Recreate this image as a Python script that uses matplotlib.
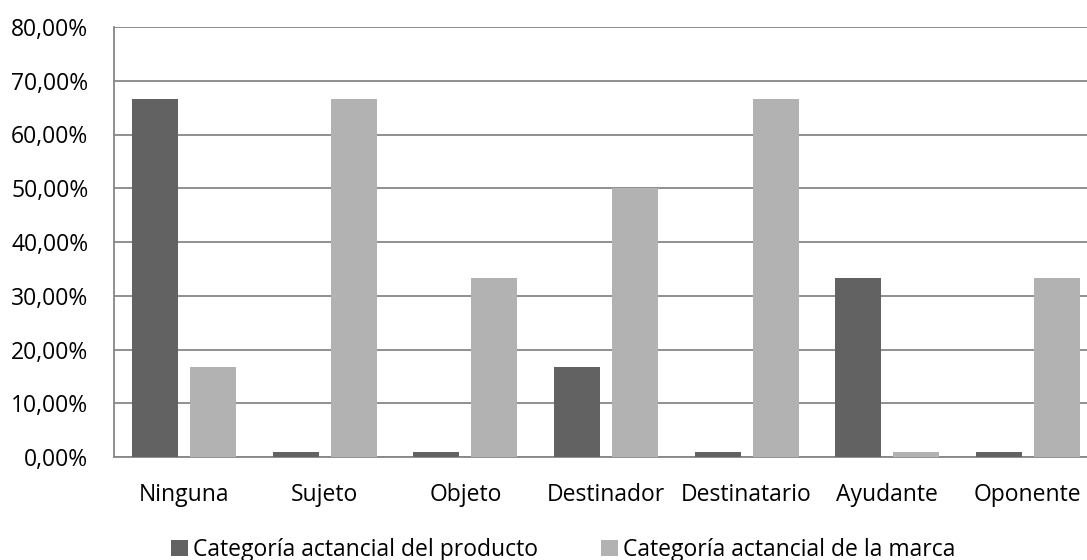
import matplotlib
matplotlib.use("Agg")
import matplotlib.pyplot as plt
import numpy as np
from matplotlib.ticker import FuncFormatter

categories = ["Ninguna", "Sujeto", "Objeto", "Destinador", "Destinatario", "Ayudante", "Oponente"]
producto = [66.67, 1.0, 1.0, 16.67, 1.0, 33.33, 1.0]
marca = [16.67, 66.67, 33.33, 50.0, 66.67, 1.0, 33.33]
series_names = ["Categoría actancial del producto", "Categoría actancial de la marca"]

plt.rcParams['font.family'] = ['Open Sans', 'DejaVu Sans']
FS = 16.5

W, H = 1087, 560
fig = plt.figure(figsize=(W / 100, H / 100), dpi=100)
# plot area runs a little past the right edge of the canvas
ax = fig.add_axes([114 / W, 1 - 457 / H, 984 / W, 430 / H])

x = np.arange(len(categories))
w = 0.327
off = 0.206
ax.bar(x - off, producto, w, color="#626262", label=series_names[0], zorder=3)
ax.bar(x + off, marca, w, color="#b2b2b2", label=series_names[1], zorder=3)

ax.set_xlim(-0.5, len(categories) - 0.5)
ax.set_ylim(0, 80)
ax.set_yticks(np.arange(0, 81, 10))
ax.yaxis.set_major_formatter(FuncFormatter(lambda v, p: f"{v:.2f}%".replace(".", ",")))
ax.set_xticks(x)
ax.set_xticklabels(categories)
ax.tick_params(axis="both", length=0, labelsize=FS, colors="black")
ax.tick_params(axis="x", pad=19)
ax.tick_params(axis="y", pad=18.5)

ax.grid(axis="y", color="#878787", linewidth=1.3, zorder=0)
for s in ["top", "right"]:
    ax.spines[s].set_visible(False)
for s in ["left", "bottom"]:
    ax.spines[s].set_color("#878787")
    ax.spines[s].set_linewidth(1.3)

handles, labels = ax.get_legend_handles_labels()
fig.legend(handles, labels, loc="center", bbox_to_anchor=(563 / W, 1 - 550 / H), ncol=2,
           frameon=False, fontsize=FS, handlelength=0.75, handleheight=0.75,
           handletextpad=0.2, columnspacing=2.75, borderpad=0)

fig.savefig("out.png", dpi=100)
